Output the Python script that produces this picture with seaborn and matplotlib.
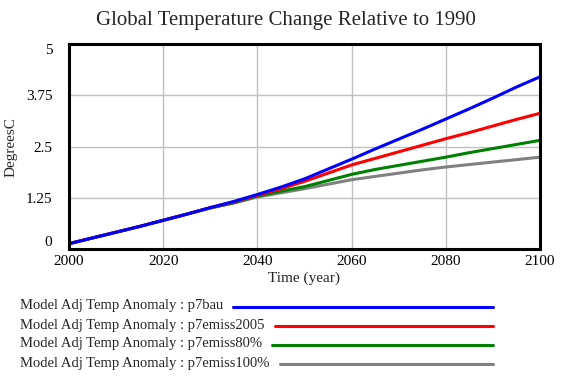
import matplotlib
matplotlib.use("Agg")
import numpy as np
import pandas as pd
import matplotlib.pyplot as plt
import seaborn as sns
from matplotlib.lines import Line2D

# values (degrees C)
years = [2000, 2005, 2010, 2015, 2020, 2025, 2030, 2035, 2040, 2045, 2050,
         2055, 2060, 2065, 2070, 2075, 2080, 2085, 2090, 2095, 2100]
p7bau = [0.13, 0.27, 0.41, 0.55, 0.70, 0.85, 1.01, 1.16, 1.33, 1.51, 1.71,
         1.95, 2.19, 2.44, 2.68, 2.92, 3.17, 3.42, 3.68, 3.95, 4.20]
p7emiss2005 = [0.13, 0.27, 0.41, 0.55, 0.70, 0.85, 1.01, 1.15, 1.31, 1.47, 1.65,
               1.85, 2.05, 2.21, 2.37, 2.53, 2.69, 2.84, 3.00, 3.16, 3.31]
p7emiss80 = [0.13, 0.27, 0.41, 0.55, 0.70, 0.85, 1.00, 1.13, 1.29, 1.41, 1.52,
             1.67, 1.82, 1.94, 2.04, 2.14, 2.24, 2.35, 2.45, 2.55, 2.65]
p7emiss100 = [0.13, 0.27, 0.41, 0.55, 0.70, 0.85, 1.00, 1.12, 1.27, 1.37, 1.47,
              1.58, 1.69, 1.77, 1.85, 1.93, 2.00, 2.06, 2.12, 2.18, 2.24]

series_names = ["p7bau", "p7emiss2005", "p7emiss80%", "p7emiss100%"]
series_colors = ["#0000ff", "#ff0000", "#008000", "#808080"]
legend_prefix = "Model Adj Temp Anomaly : "

y_ticks = [0, 1.25, 2.5, 3.75, 5]
y_tick_labels = ["0", "1.25", "2.5", "3.75", "5"]
x_ticks = [2000, 2020, 2040, 2060, 2080, 2100]

df = pd.DataFrame({
    "year": years * 4,
    "value": p7bau + p7emiss2005 + p7emiss80 + p7emiss100,
    "run": sum([[n] * len(years) for n in series_names], []),
})

sns.set_theme(style="white")
plt.rcParams["font.family"] = ["Liberation Serif", "DejaVu Serif"]

fig = plt.figure(figsize=(5.71, 3.80), dpi=100)
ax = fig.add_axes([69 / 571, 1 - 249 / 380, 471 / 571, 205 / 380])

# draw grey first so blue ends up on top
sns.lineplot(data=df, x="year", y="value", hue="run",
             hue_order=series_names[::-1],
             palette=dict(zip(series_names, series_colors)),
             linewidth=2.2, legend=False, ax=ax)

ax.set_xlim(2000, 2100)
ax.set_ylim(0, 5)
ax.set_xticks(x_ticks)
ax.set_yticks(y_ticks)
ax.set_yticklabels(y_tick_labels)
ax.tick_params(axis="both", length=0, labelsize=11, colors="black")
ax.tick_params(axis="y", pad=12)
ax.tick_params(axis="x", pad=4)
ylabs = ax.get_yticklabels()
ylabs[0].set_va("bottom")
ylabs[-1].set_va("top")

ax.grid(True, color="#c0c0c0", linewidth=1)
for s in ax.spines.values():
    s.set_color("black")
    s.set_linewidth(2.2)

ax.set_xlabel("Time (year)", fontsize=11, labelpad=3)
ax.set_ylabel("")
fig.text(11 / 571, 1 - 147 / 380, "DegreesC", rotation=90,
         ha="center", va="center", fontsize=11)
fig.text(0.5, 1 - 20 / 380, "Global Temperature Change Relative to 1990",
         ha="center", va="center", fontsize=15)

# Vensim-style legend below the plot: label then a line out to the right
fig.canvas.draw()
renderer = fig.canvas.get_renderer()
row_y = [306, 325, 344, 363]
for name, color, ypx in zip(series_names, series_colors, row_y):
    t = fig.text(20 / 571, 1 - ypx / 380, legend_prefix + name,
                 ha="left", va="center", fontsize=10.5)
    bb = t.get_window_extent(renderer)
    x0 = (bb.x1 + 10) / 571
    fig.add_artist(Line2D([x0, 493 / 571], [1 - (ypx + 1) / 380] * 2,
                          color=color, linewidth=2.2,
                          transform=fig.transFigure))

fig.savefig("out.png", dpi=100)
